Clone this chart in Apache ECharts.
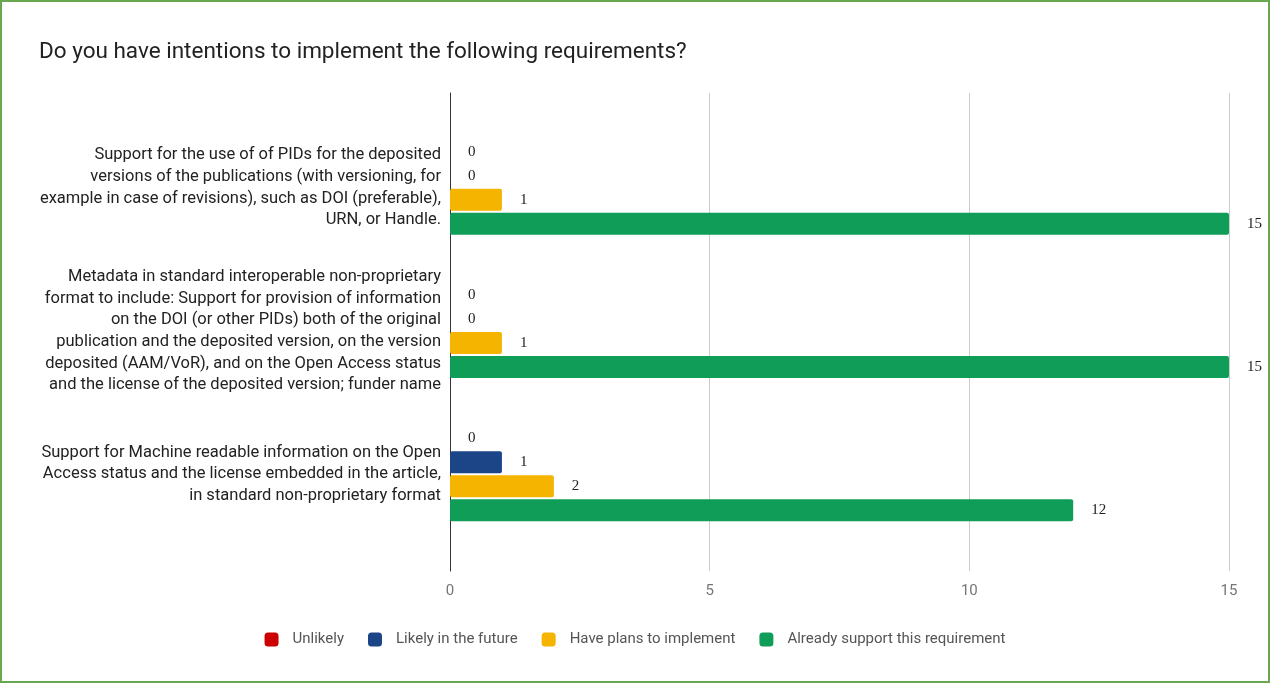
<!DOCTYPE html>
<html>
<head>
<meta charset="utf-8">
<script src="https://cdn.jsdelivr.net/npm/echarts@6/dist/echarts.min.js"></script>
<style>
  html, body { margin: 0; padding: 0; background: #fff; }
  #chart { position: absolute; left: 0; top: 0; width: 1270px; height: 683px; }
  #frame { position: absolute; left: 0; top: 0; width: 1270px; height: 683px; box-sizing: border-box; border: 2px solid #6aa84f; pointer-events: none; }
</style>
</head>
<body>
<div id="chart"></div>
<div id="frame"></div>
<script>
const categories = [
  'Support for the use of of PIDs for the deposited\nversions of the publications (with versioning, for\nexample in case of revisions), such as DOI (preferable),\nURN, or Handle.',
  'Metadata in standard interoperable non-proprietary\nformat to include: Support for provision of information\non the DOI (or other PIDs) both of the original\npublication and the deposited version, on the version\ndeposited (AAM/VoR), and on the Open Access status\nand the license of the deposited version; funder name',
  'Support for Machine readable information on the Open\nAccess status and the license embedded in the article,\nin standard non-proprietary format'
]
const seriesNames = ['Unlikely', 'Likely in the future', 'Have plans to implement', 'Already support this requirement']
const unlikely = [0, 0, 0]
const likelyFuture = [0, 0, 1]
const havePlans = [1, 1, 2]
const alreadySupport = [15, 15, 12]
const colors = ['#cc0000', '#1c4587', '#f4b400', '#0f9d58']
const xTicks = [0, 5, 10, 15]

const values = [unlikely, likelyFuture, havePlans, alreadySupport]

let chart = echarts.init(document.getElementById('chart'))

let series = seriesNames.map(function (name, i) {
  return {
    name: name,
    type: 'bar',
    xAxisIndex: 1,
    yAxisIndex: 1,
    barWidth: 22,
    barGap: '9%',
    itemStyle: {color: colors[i], borderRadius: 2},
    label: {
      show: true,
      position: 'right',
      distance: 18,
      color: '#222',
      fontFamily: 'Liberation Serif',
      fontSize: 15
    },
    data: values[i]
  }
})

let option = {
  animation: false,
  color: colors,
  title: {
    text: 'Do you have intentions to implement the following requirements?',
    left: 34,
    top: 36,
    textStyle: {fontFamily: 'Roboto', fontSize: 22.5, fontWeight: 'normal', color: '#222'}
  },
  legend: {
    bottom: 31,
    left: 'center',
    itemWidth: 14,
    itemHeight: 14,
    itemGap: 24,
    icon: 'roundRect',
    textStyle: {fontFamily: 'Roboto', fontSize: 15, color: '#555', padding: [0, 0, 0, 9]},
    data: seriesNames
  },
  grid: [
    {left: 450, right: 41, top: 93, bottom: 112},
    {left: 450, right: 41, top: 116, height: 430}
  ],
  xAxis: [
    {
      gridIndex: 0,
      type: 'value',
      min: xTicks[0],
      max: xTicks[xTicks.length - 1],
      interval: xTicks[1] - xTicks[0],
      axisLine: {show: false},
      axisTick: {show: false},
      splitLine: {lineStyle: {color: '#cccccc', width: 1}},
      axisLabel: {margin: 13, fontFamily: 'Roboto', fontSize: 15, color: '#757575'}
    },
    {
      gridIndex: 1,
      type: 'value',
      min: 0,
      max: 15,
      show: false
    }
  ],
  yAxis: [
    {
      gridIndex: 0,
      type: 'category',
      data: [''],
      axisLine: {lineStyle: {color: '#333', width: 1}},
      axisTick: {show: false},
      axisLabel: {show: false}
    },
    {
      gridIndex: 1,
      type: 'category',
      inverse: true,
      data: categories,
      axisLine: {show: false},
      axisTick: {show: false},
      axisLabel: {
        margin: 9,
        fontFamily: 'Roboto',
        fontSize: 16.5,
        lineHeight: 21.6,
        color: '#222',
        align: 'right',
        backgroundColor: 'rgba(255,255,255,0)',
        padding: [7, 0, 0, 0]
      }
    }
  ],
  series: series
}

chart.setOption(option)
</script>
</body>
</html>
